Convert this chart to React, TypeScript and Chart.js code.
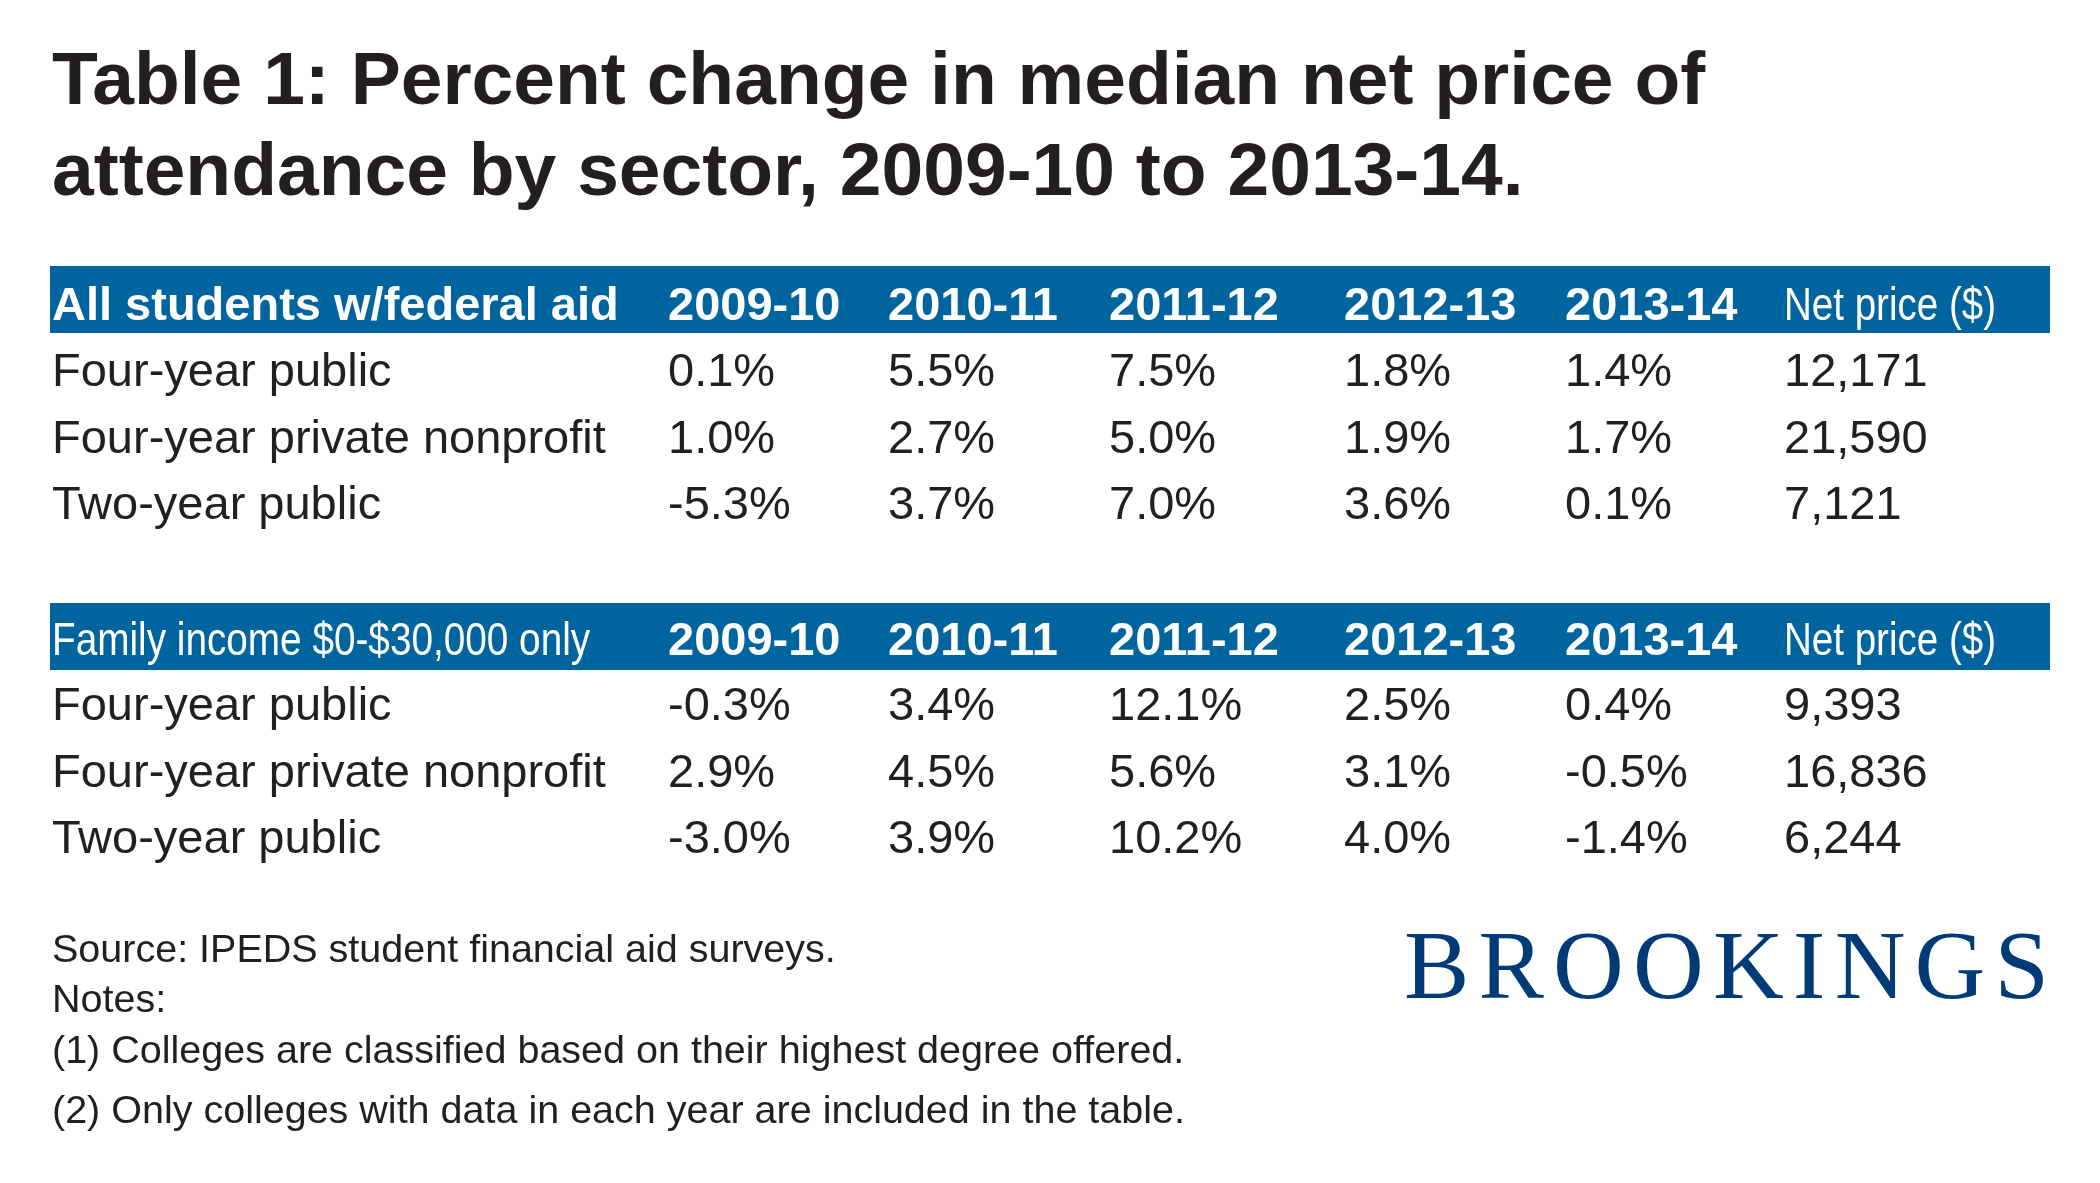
import React, { useEffect, useRef } from "react";
import { Chart, registerables } from "chart.js";

Chart.register(...registerables);

// ---------- data ----------
const titleLines = [
  "Table 1: Percent change in median net price of",
  "attendance by sector, 2009-10 to 2013-14.",
];
const years = ["2009-10", "2010-11", "2011-12", "2012-13", "2013-14"];
const priceHeader = "Net price ($)";
const sectors = ["Four-year public", "Four-year private nonprofit", "Two-year public"];

const groupTitles = ["All students w/federal aid", "Family income $0-$30,000 only"];

// percent change by sector (rows) and year (columns)
const allFourPublic = [0.1, 5.5, 7.5, 1.8, 1.4];
const allFourPrivate = [1.0, 2.7, 5.0, 1.9, 1.7];
const allTwoPublic = [-5.3, 3.7, 7.0, 3.6, 0.1];
const allNetPrice = [12171, 21590, 7121];

const lowFourPublic = [-0.3, 3.4, 12.1, 2.5, 0.4];
const lowFourPrivate = [2.9, 4.5, 5.6, 3.1, -0.5];
const lowTwoPublic = [-3.0, 3.9, 10.2, 4.0, -1.4];
const lowNetPrice = [9393, 16836, 6244];

const sourceLines = [
  "Source: IPEDS student financial aid surveys.",
  "Notes:",
  "(1) Colleges are classified based on their highest degree offered.",
  "(2) Only colleges with data in each year are included in the table.",
];
const brandName = "BROOKINGS";

// ---------- layout / style ----------
const W = 2100;
const H = 1183;
const SANS = '"Liberation Sans", Arial, Helvetica, sans-serif';
const SERIF = '"Liberation Serif", "Times New Roman", serif';
const TEXT = "#231f20";
const BLUE = "#00649f";
const NAVY = "#003b78";

const COL_X = [52, 668, 888, 1109, 1344, 1565, 1784];
const TABLE_LEFT = 50;
const TABLE_RIGHT = 2050;
const BLOCK_TOP = [266, 603];
const BAR_H = 67;
const HDR_BASE = [54, 52];
const ROW_BASE0 = [120, 117];
const ROW_STEP = 66.5;

const pct = (v: number) => v.toFixed(1) + "%";
const money = (v: number) => v.toLocaleString("en-US");

const tablePlugin = {
  id: "tablePlugin",
  afterDraw(chart: any) {
    const ctx: CanvasRenderingContext2D = chart.ctx;
    const sx = chart.scales.x;
    const sy = chart.scales.y;
    const px = (v: number) => sx.getPixelForValue(v);
    const py = (v: number) => sy.getPixelForValue(v);

    const text = (
      s: string,
      x: number,
      y: number,
      font: string,
      color: string,
      squeeze = 1
    ) => {
      ctx.save();
      ctx.font = font;
      ctx.fillStyle = color;
      ctx.textBaseline = "alphabetic";
      ctx.textAlign = "left";
      ctx.translate(px(x), py(y));
      ctx.scale(squeeze, 1);
      ctx.fillText(s, 0, 0);
      ctx.restore();
    };

    ctx.save();
    // title
    titleLines.forEach((t, i) => text(t, 52, 104 + i * 91, `bold 75px ${SANS}`, TEXT));

    const groups = [
      { rows: [allFourPublic, allFourPrivate, allTwoPublic], prices: allNetPrice, bold: true },
      { rows: [lowFourPublic, lowFourPrivate, lowTwoPublic], prices: lowNetPrice, bold: false },
    ];

    groups.forEach((g, gi) => {
      const top = BLOCK_TOP[gi];
      ctx.fillStyle = BLUE;
      ctx.fillRect(px(TABLE_LEFT), py(top), px(TABLE_RIGHT) - px(TABLE_LEFT), py(top + BAR_H) - py(top));
      const hb = top + HDR_BASE[gi];
      if (g.bold) text(groupTitles[gi], COL_X[0], hb, `bold 47px ${SANS}`, "#ffffff");
      else text(groupTitles[gi], COL_X[0], hb, `47px ${SANS}`, "#ffffff", 0.824);
      years.forEach((yr, j) => text(yr, COL_X[j + 1], hb, `bold 47px ${SANS}`, "#ffffff"));
      text(priceHeader, COL_X[6], hb, `47px ${SANS}`, "#ffffff", 0.82);

      g.rows.forEach((vals, ri) => {
        const b = top + ROW_BASE0[gi] + ri * ROW_STEP;
        text(sectors[ri], COL_X[0], b, `47px ${SANS}`, TEXT);
        vals.forEach((v, j) => text(pct(v), COL_X[j + 1], b, `47px ${SANS}`, TEXT));
        text(money(g.prices[ri]), COL_X[6], b, `47px ${SANS}`, TEXT);
      });
    });

    // source / notes
    const srcBase = [962, 1012, 1063, 1123];
    sourceLines.forEach((s, i) => text(s, 52, srcBase[i], `39.5px ${SANS}`, TEXT));

    // brand
    ctx.font = `98px ${SERIF}`;
    ctx.fillStyle = NAVY;
    const chars = brandName.split("");
    const widths = chars.map((c) => ctx.measureText(c).width);
    const natural = widths.reduce((a, b) => a + b, 0);
    const targetL = 1404;
    const targetR = 2049;
    const gap = (targetR - targetL - natural) / (chars.length - 1);
    let cx = targetL;
    chars.forEach((c, i) => {
      ctx.fillText(c, px(cx), py(998));
      cx += widths[i] + gap;
    });
    ctx.restore();
  },
};

export default function App() {
  const ref = useRef<HTMLCanvasElement | null>(null);
  useEffect(() => {
    if (!ref.current) return;
    const chart = new Chart(ref.current, {
      type: "scatter",
      data: { datasets: [{ data: [], pointRadius: 0 }] },
      options: {
        animation: false,
        responsive: false,
        devicePixelRatio: 1,
        layout: { padding: 0 },
        scales: {
          x: { type: "linear", min: 0, max: W, display: false },
          y: { type: "linear", min: 0, max: H, reverse: true, display: false },
        },
        plugins: { legend: { display: false }, tooltip: { enabled: false }, title: { display: false } },
      },
      plugins: [tablePlugin],
    });
    return () => chart.destroy();
  }, []);
  return (
    <div style={{ position: "fixed", left: 0, top: 0, width: W, height: H, background: "#ffffff" }}>
      <canvas ref={ref} width={W} height={H} style={{ display: "block", width: W, height: H }} />
    </div>
  );
}
